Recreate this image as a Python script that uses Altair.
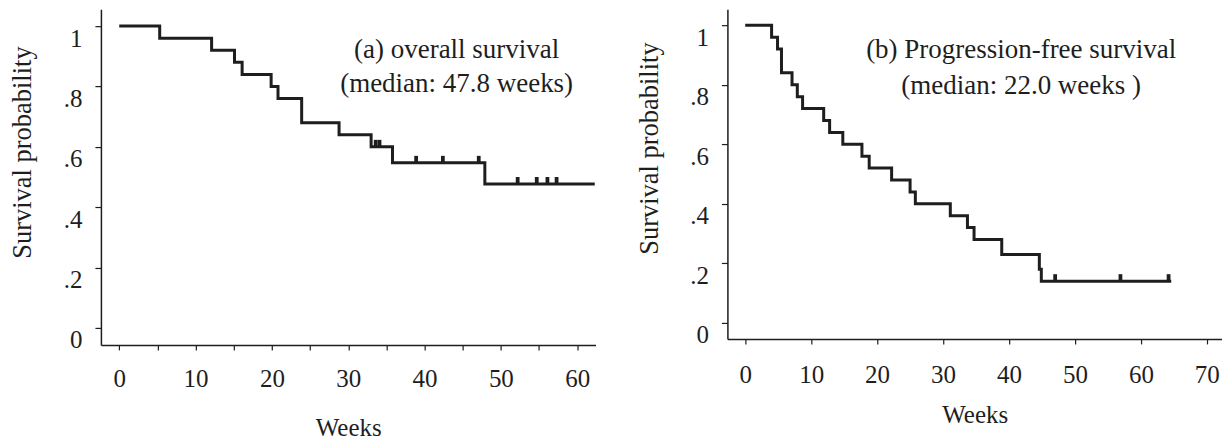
import altair as alt
import pandas as pd

# ---------------- data ----------------
# (a) overall survival: step points (week, survival probability)
os_weeks = [0, 5.3, 12.1, 15.1, 16.1, 19.9, 20.8, 23.9, 28.8, 33.0, 35.8, 47.9, 62.3]
os_surv = [1.0, 0.96, 0.92, 0.88, 0.84, 0.80, 0.76, 0.68, 0.64, 0.60, 0.547, 0.477, 0.477]
os_cens_weeks = [33.6, 34.1, 38.9, 42.4, 47.1, 52.2, 54.7, 56.1, 57.3]
os_cens_surv = [0.60, 0.60, 0.547, 0.547, 0.547, 0.477, 0.477, 0.477, 0.477]

# (b) progression-free survival
pfs_weeks = [0, 4.0, 4.9, 5.5, 7.1, 7.9, 8.7, 11.9, 12.8, 14.8, 17.7, 18.8,
             22.2, 25.0, 25.8, 31.1, 33.7, 34.7, 38.9, 44.6, 44.9, 64.6]
pfs_surv = [1.0, 0.96, 0.92, 0.84, 0.80, 0.76, 0.72, 0.68, 0.64, 0.60, 0.56, 0.52,
            0.48, 0.44, 0.40, 0.36, 0.32, 0.28, 0.23, 0.18, 0.14, 0.14]
pfs_cens_weeks = [47.0, 56.9, 64.2]
pfs_cens_surv = [0.14, 0.14, 0.14]

ann_a = ["(a) overall survival", "(median: 47.8 weeks)"]
ann_b = ["(b) Progression-free survival", "(median: 22.0 weeks )"]

x_ticks_a = [0, 2.5, 5, 7.5, 10, 12.5, 15, 17.5, 20, 22.5, 25, 27.5, 30, 32.5, 35,
             37.5, 40, 42.5, 45, 47.5, 50, 52.5, 55, 57.5, 60]
x_ticks_b = x_ticks_a + [62.5, 65, 67.5, 70]
y_ticks = [0, 0.1, 0.2, 0.3, 0.4, 0.5, 0.6, 0.7, 0.8, 0.9, 1.0]

FONT = "Liberation Serif"
INK = "#1e1e1e"
# censoring mark: short vertical bar rising from the curve
CENSOR_SHAPE = "M-0.27,-1L0.27,-1L0.27,0L-0.27,0Z"

x_label_expr = "datum.value % 10 == 0 ? datum.label : ''"
y_label_expr = ("round(datum.value*10) % 2 == 0 ? (datum.value == 0 ? '0' : "
                "(datum.value == 1 ? '1' : replace(format(datum.value, '.1f'), '0.', '.'))) : ''")


def text_layer(label, x, y):
    df = pd.DataFrame({"label": [label]})
    return alt.Chart(df).mark_text(
        font=FONT, fontSize=27, color=INK, align="center", baseline="middle"
    ).encode(text="label:N", x=alt.value(x), y=alt.value(y))


def panel(weeks, surv, cw, cs, ann, xdom, ydom, xticks, w, h, ann_x, ann_y1, ann_y2,
          weeks_title_y, ytitle_y, xlab_pad):
    line_df = pd.DataFrame({"week": weeks, "surv": surv})
    cens_df = pd.DataFrame({"week": cw, "surv": cs})
    x_enc = alt.X(
        "week:Q",
        scale=alt.Scale(domain=xdom, nice=False, zero=False),
        axis=alt.Axis(values=xticks, labelExpr=x_label_expr, title="Weeks",
                      titleY=weeks_title_y, titleBaseline="middle",
                      labelPadding=xlab_pad, tickSize=5),
    )
    y_enc = alt.Y(
        "surv:Q",
        scale=alt.Scale(domain=ydom, nice=False, zero=False),
        axis=alt.Axis(values=y_ticks, labelExpr=y_label_expr,
                      title="Survival probability", titleX=-78, titleY=ytitle_y,
                      titleBaseline="middle", titleFontSize=26.5,
                      labelOffset=12, labelPadding=13, tickSize=6),
    )
    line = alt.Chart(line_df).mark_line(
        interpolate="step-after", color=INK, strokeWidth=3
    ).encode(x=x_enc, y=y_enc)
    cens = alt.Chart(cens_df).mark_point(
        shape=CENSOR_SHAPE, filled=True, size=196, color=INK, opacity=1, strokeWidth=0
    ).encode(x="week:Q", y="surv:Q")
    return alt.layer(
        line, cens, text_layer(ann[0], ann_x, ann_y1), text_layer(ann[1], ann_x, ann_y2)
    ).properties(width=w, height=h)


pa = panel(os_weeks, os_surv, os_cens_weeks, os_cens_surv, ann_a,
           [-2.4, 62.4], [-0.056, 1.056], x_ticks_a, 495, 336, 356, 41, 75, 83, 143, 17)
pb = panel(pfs_weeks, pfs_surv, pfs_cens_weeks, pfs_cens_surv, ann_b,
           [-2.7, 72.3], [-0.054, 1.054], x_ticks_b, 495, 330, 294, 41, 77, 76, 139, 19)

chart = alt.hconcat(pa, pb, spacing=34).properties(
    padding={"top": 1, "left": 2, "right": 0, "bottom": 0}
).configure_view(stroke=None).configure_axis(
    grid=False,
    domainColor=INK,
    domainWidth=1.5,
    tickColor=INK,
    tickWidth=1.2,
    labelFont=FONT,
    labelFontSize=25,
    labelColor=INK,
    titleFont=FONT,
    titleFontSize=25,
    titleFontWeight="normal",
    titleColor=INK,
)

chart.save("out.html", embed_options={"renderer": "svg", "actions": False})
